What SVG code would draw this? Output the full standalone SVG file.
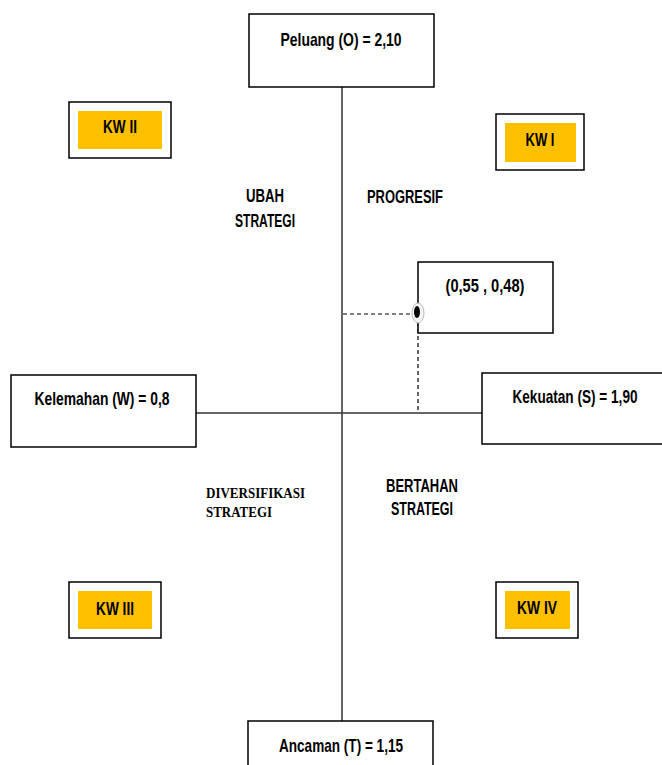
<svg xmlns="http://www.w3.org/2000/svg" width="662" height="765" viewBox="0 0 662 765">
<style>
.box{fill:#fff;stroke:#000;stroke-width:1.5}
.kw{fill:#fff;stroke:#000;stroke-width:1.5}
.yl{fill:#FFC000;stroke:none}
.t{font-family:"Liberation Sans",Arial,sans-serif;font-weight:bold;font-size:19px;fill:#000}
.s{font-family:"Liberation Serif","Times New Roman",serif;font-weight:bold;font-size:15px;fill:#000}
.ax{stroke:#333;stroke-width:1.5;fill:none}
.dash{stroke:#000;stroke-width:1.2;stroke-dasharray:4,3;fill:none}
</style>
<g id="connectors">
<line class="ax" x1="342" y1="87" x2="342" y2="721"/>
<line class="ax" x1="196" y1="413" x2="482" y2="413"/>
<line class="dash" x1="343" y1="314" x2="413" y2="314"/>
<line class="dash" x1="418" y1="322" x2="418" y2="412"/>
</g>
<g id="peluang">
<rect class="box" x="249" y="14" width="185" height="73"/>
<text class="t" x="341" y="46" text-anchor="middle" textLength="121" lengthAdjust="spacingAndGlyphs">Peluang (O) = 2,10</text>
</g>
<g id="kw2">
<rect class="kw" x="69" y="102" width="102" height="56"/>
<rect class="yl" x="78" y="111" width="84" height="38"/>
<text class="t" x="120" y="133" text-anchor="middle" textLength="34" lengthAdjust="spacingAndGlyphs">KW II</text>
</g>
<g id="kw1">
<rect class="kw" x="496" y="114" width="88" height="56"/>
<rect class="yl" x="505" y="123" width="71" height="39"/>
<text class="t" x="540" y="146" text-anchor="middle" textLength="29" lengthAdjust="spacingAndGlyphs">KW I</text>
</g>
<g id="ubah">
<text class="t" x="265" y="202" text-anchor="middle" textLength="38" lengthAdjust="spacingAndGlyphs">UBAH</text>
<text class="t" x="265" y="227" text-anchor="middle" textLength="60" lengthAdjust="spacingAndGlyphs">STRATEGI</text>
</g>
<g id="progresif">
<text class="t" x="405" y="203" text-anchor="middle" textLength="76" lengthAdjust="spacingAndGlyphs">PROGRESIF</text>
</g>
<g id="point">
<rect class="box" x="418" y="262" width="135" height="71"/>
<text class="t" x="485" y="292" text-anchor="middle" textLength="79" lengthAdjust="spacingAndGlyphs">(0,55 , 0,48)</text>
<ellipse cx="418" cy="313" rx="6" ry="10" fill="#f4f4f4" stroke="#bbb" stroke-width="1"/>
<ellipse cx="417" cy="312" rx="3" ry="6" fill="#000"/>
</g>
<g id="kelemahan">
<rect class="box" x="11" y="375" width="185" height="72"/>
<text class="t" x="102" y="405" text-anchor="middle" textLength="135" lengthAdjust="spacingAndGlyphs">Kelemahan (W) = 0,8</text>
</g>
<g id="kekuatan">
<rect class="box" x="482" y="373" width="181" height="71"/>
<text class="t" x="575" y="403" text-anchor="middle" textLength="125" lengthAdjust="spacingAndGlyphs">Kekuatan (S) = 1,90</text>
</g>
<g id="diversifikasi">
<text class="s" x="206" y="498" textLength="99" lengthAdjust="spacingAndGlyphs">DIVERSIFIKASI</text>
<text class="s" x="206" y="517" textLength="66" lengthAdjust="spacingAndGlyphs">STRATEGI</text>
</g>
<g id="bertahan">
<text class="t" x="422" y="492" text-anchor="middle" textLength="72" lengthAdjust="spacingAndGlyphs">BERTAHAN</text>
<text class="t" x="422" y="515" text-anchor="middle" textLength="62" lengthAdjust="spacingAndGlyphs">STRATEGI</text>
</g>
<g id="kw3">
<rect class="kw" x="69" y="582" width="92" height="56"/>
<rect class="yl" x="78" y="591" width="74" height="38"/>
<text class="t" x="115" y="615" text-anchor="middle" textLength="38" lengthAdjust="spacingAndGlyphs">KW III</text>
</g>
<g id="kw4">
<rect class="kw" x="496" y="582" width="82" height="56"/>
<rect class="yl" x="505" y="591" width="65" height="38"/>
<text class="t" x="537" y="614" text-anchor="middle" textLength="40" lengthAdjust="spacingAndGlyphs">KW IV</text>
</g>
<g id="ancaman">
<rect class="box" x="248" y="721" width="185" height="60"/>
<text class="t" x="341" y="752" text-anchor="middle" textLength="124" lengthAdjust="spacingAndGlyphs">Ancaman (T) = 1,15</text>
</g>
</svg>
